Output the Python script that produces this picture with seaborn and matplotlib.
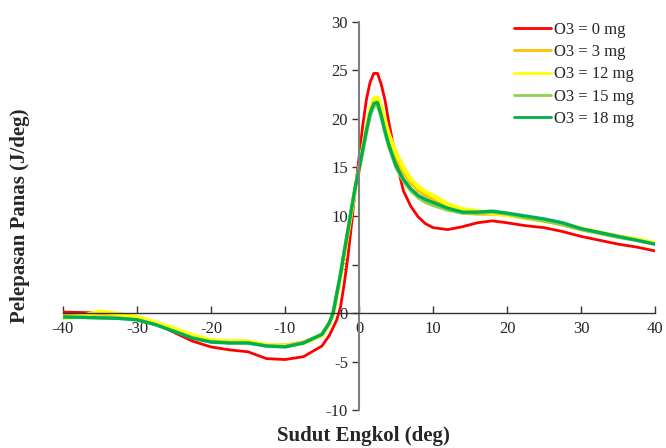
import matplotlib
matplotlib.use("Agg")
import matplotlib.pyplot as plt
import seaborn as sns
import pandas as pd

sns.set_theme(style="white")
plt.rcParams['font.family'] = ['Liberation Serif', 'DejaVu Serif']
plt.rcParams['axes.unicode_minus'] = False

crank_angle = [-40, -37.5, -35, -32.5, -30, -27.5, -25, -22.5, -20, -17.5, -15, -12.5, -10, -7.5,
               -5, -4, -3.5, -3, -2.5, -2, -1.5, -1, -0.5, 0, 0.5, 1, 1.5, 2, 2.5, 3, 3.5, 4,
               5, 6, 7, 8, 9, 10, 12, 14, 16, 18, 20, 22.5, 25, 27.5, 30, 32.5, 35, 37.5, 40]

o3_0 = [0.1, 0.05, 0.0, -0.1, -0.4, -1.1, -2.0, -2.9, -3.5, -3.8, -4.0, -4.7, -4.8, -4.5,
        -3.4, -2.3, -1.5, -0.7, 0.6, 3.0, 5.8, 9.2, 12.8, 16.0, 19.3, 22.0, 23.8, 24.7, 24.7, 23.6, 22.0, 19.8,
        15.8, 12.6, 11.0, 9.9, 9.2, 8.8, 8.6, 8.9, 9.3, 9.5, 9.3, 9.0, 8.8, 8.4, 7.9, 7.5, 7.1, 6.8, 6.4]
o3_3 = [-0.3, -0.2, -0.1, -0.2, -0.5, -1.1, -1.8, -2.5, -2.9, -3.0, -3.0, -3.3, -3.3, -3.0,
        -2.2, -1.0, 0.0, 1.9, 3.9, 6.2, 8.4, 10.7, 12.9, 14.8, 16.9, 18.9, 20.8, 21.9, 22.0, 20.9, 19.4, 18.0,
        16.0, 14.5, 13.4, 12.6, 12.1, 11.7, 10.9, 10.3, 10.2, 10.2, 10.1, 9.8, 9.5, 9.1, 8.6, 8.3, 7.9, 7.6, 7.2]
o3_12 = [-0.5, -0.3, 0.15, -0.1, -0.4, -1.0, -1.6, -2.3, -2.8, -2.9, -2.9, -3.3, -3.4, -3.1,
         -2.3, -1.1, -0.1, 1.8, 3.8, 6.1, 8.3, 10.6, 12.9, 14.8, 16.9, 19.0, 20.9, 22.1, 22.2, 21.2, 19.8, 18.5,
         16.5, 15.0, 13.8, 13.0, 12.5, 12.1, 11.2, 10.7, 10.5, 10.3, 10.1, 9.8, 9.5, 9.2, 8.7, 8.3, 7.9, 7.6, 7.2]
o3_15 = [-0.45, -0.45, -0.5, -0.55, -0.7, -1.2, -1.85, -2.55, -2.95, -3.05, -3.05, -3.4, -3.45, -3.05,
         -2.2, -1.0, 0.0, 2.0, 4.0, 6.3, 8.5, 10.8, 13.0, 14.8, 16.7, 18.6, 20.3, 21.3, 21.4, 20.2, 18.6, 17.2,
         15.0, 13.6, 12.6, 11.9, 11.4, 11.1, 10.6, 10.3, 10.3, 10.4, 10.2, 9.8, 9.5, 9.1, 8.6, 8.2, 7.8, 7.5, 7.1]
o3_18 = [-0.4, -0.45, -0.5, -0.55, -0.7, -1.2, -1.9, -2.6, -3.0, -3.1, -3.1, -3.4, -3.5, -3.1,
         -2.2, -1.0, 0.0, 2.0, 4.0, 6.3, 8.5, 10.8, 13.0, 14.8, 16.8, 18.8, 20.6, 21.6, 21.7, 20.4, 18.8, 17.4,
         15.2, 13.8, 12.8, 12.1, 11.7, 11.4, 10.8, 10.4, 10.4, 10.5, 10.3, 10.0, 9.7, 9.3, 8.7, 8.3, 7.9, 7.5, 7.1]

labels = ["O3 = 0 mg", "O3 = 3 mg", "O3 = 12 mg", "O3 = 15 mg", "O3 = 18 mg"]
colors = ["#FF0000", "#FFC000", "#FFFF00", "#92D050", "#00B050"]
widths = [2.0, 2.4, 3.0, 2.4, 2.4]

series = [o3_0, o3_3, o3_12, o3_15, o3_18]
df = pd.concat([pd.DataFrame({"angle": crank_angle, "heat": s, "grp": lab})
                for s, lab in zip(series, labels)], ignore_index=True)

fig = plt.figure(figsize=(6.66, 4.48), dpi=100)
ax = fig.add_axes([63/666, 1 - 410/448, (655 - 63)/666, (410 - 22)/448])

for lab, col, lw in zip(labels, colors, widths):
    sub = df[df["grp"] == lab]
    sns.lineplot(data=sub, x="angle", y="heat", color=col, linewidth=lw, ax=ax, label=lab)

ax.set_xlim(-40, 40)
ax.set_ylim(-10, 30)
ax.set_xticks(range(-40, 41, 10))
ax.set_yticks(range(-10, 31, 5))
ax.set_xlabel("")
ax.set_ylabel("")

ax.spines['left'].set_position(('data', 0))
ax.spines['bottom'].set_position(('data', 0))
ax.spines['top'].set_visible(False)
ax.spines['right'].set_visible(False)
ax.spines['left'].set_color('#808080')
ax.spines['left'].set_linewidth(1.5)
ax.spines['bottom'].set_color('#333333')
ax.spines['bottom'].set_linewidth(1.0)

ax.tick_params(axis='y', direction='out', length=5, width=1, color='#333333',
               labelsize=12, pad=3, left=True)
ax.tick_params(axis='x', direction='in', length=5, width=1, color='#333333',
               labelsize=12, pad=6, bottom=True)
ax.grid(False)

leg = ax.legend(loc='upper right', bbox_to_anchor=(0.975, 1.018), frameon=False,
                fontsize=12, handlelength=2.2, handletextpad=0.15, labelspacing=0.38,
                borderaxespad=0.0)
for h in leg.get_lines():
    h.set_linewidth(2.0)

fig.text(363/666, 1 - 436/448, "Sudut Engkol (deg)", ha='center', va='center',
         fontsize=15, fontweight='bold')
fig.text(20/666, 1 - 216/448, "Pelepasan Panas (J/deg)", ha='center', va='center',
         rotation=90, fontsize=15, fontweight='bold')

fig.savefig("out.png", dpi=100)
